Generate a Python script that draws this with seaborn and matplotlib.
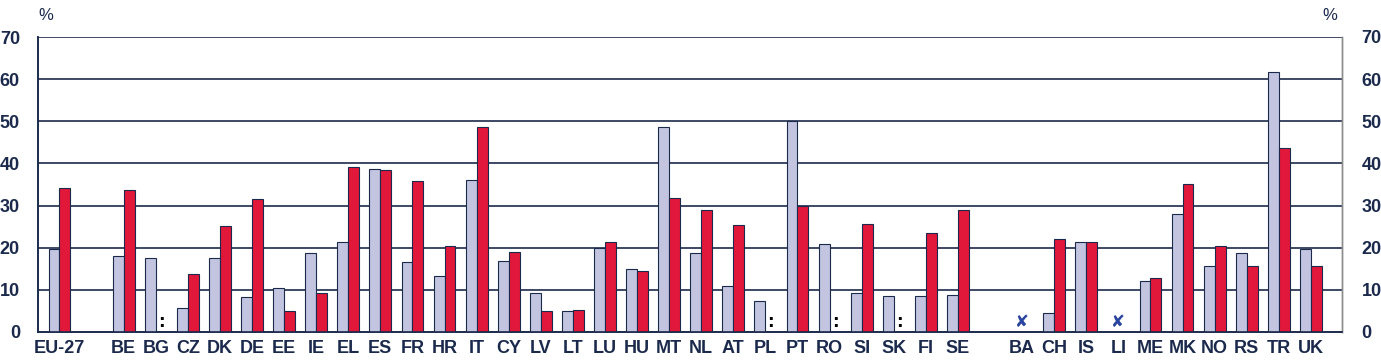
import numpy as np
import pandas as pd
import matplotlib
matplotlib.use("Agg")
import matplotlib.pyplot as plt
import seaborn as sns

categories = ["EU-27", "_g1", "BE", "BG", "CZ", "DK", "DE", "EE", "IE", "EL", "ES", "FR", "HR",
              "IT", "CY", "LV", "LT", "LU", "HU", "MT", "NL", "AT", "PL", "PT", "RO", "SI",
              "SK", "FI", "SE", "_g2", "BA", "CH", "IS", "LI", "ME", "MK", "NO", "RS", "TR", "UK"]
tick_labels = ["" if c.startswith("_g") else c for c in categories]

series_a = [19.8, np.nan, 18.0, 17.5, 5.7, 17.5, 8.3, 10.4, 18.7, 21.4, 38.6, 16.5, 13.4,
            36.0, 16.8, 9.3, 4.9, 19.9, 15.0, 48.6, 18.7, 10.8, 7.3, 50.0, 20.8, 9.3,
            8.6, 8.6, 8.8, np.nan, np.nan, 4.4, 21.3, np.nan, 12.1, 27.9, 15.7, 18.7, 61.6, 19.7]
series_b = [34.1, np.nan, 33.7, np.nan, 13.8, 25.2, 31.6, 5.1, 9.3, 39.1, 38.4, 35.8, 20.3,
            48.6, 19.1, 4.9, 5.2, 21.3, 14.4, 31.7, 28.9, 25.3, np.nan, 30.0, np.nan, 25.6,
            np.nan, 23.4, 28.9, np.nan, np.nan, 22.0, 21.3, np.nan, 12.9, 35.1, 20.5, 15.7, 43.7, 15.7]
not_available = ["BG", "PL", "RO", "SK"]   # ':' for series B
not_applicable = ["BA", "LI"]              # cross marks
yticks = [0, 10, 20, 30, 40, 50, 60, 70]

navy = "#1B2A4C"
lav = "#C3C5E0"
red = "#E2183A"

df = pd.DataFrame({
    "cat": categories * 2,
    "series": ["A"] * len(categories) + ["B"] * len(categories),
    "value": series_a + series_b,
})

sns.set_theme(style="white")
plt.rcParams['font.family'] = ['Liberation Sans Narrow', 'Liberation Sans', 'DejaVu Sans']

fig = plt.figure(figsize=(13.81, 3.64), dpi=100)
ax = fig.add_axes([38/1381, 32/364, (1342-38)/1381, (332-37)/364])

sns.barplot(data=df, x="cat", y="value", hue="series", order=categories,
            hue_order=["A", "B"], palette=[lav, red], saturation=1, width=0.68, ax=ax,
            edgecolor=navy, linewidth=0.8, legend=False, zorder=3)

ax.set_xlim(-0.67, 39.97)
ax.set_ylim(0, 70)
ax.set_yticks(yticks)
ax.set_xticks(range(len(categories)))
ax.set_xticklabels(tick_labels, fontsize=13, fontweight="bold", color=navy)
ax.set_yticklabels([str(v) for v in yticks], fontsize=13, fontweight="bold", color=navy)
ax.tick_params(axis="x", length=0, pad=6)
ax.tick_params(axis="y", length=0, pad=13)
ax.set_xlabel("")
ax.set_ylabel("")
for y in yticks[1:]:
    ax.axhline(y, color=navy, lw=1.2, zorder=1)

ax2 = ax.twinx()
ax2.set_ylim(0, 70)
ax2.set_yticks(yticks)
ax2.set_yticklabels([str(v) for v in yticks], fontsize=13, fontweight="bold", color=navy)
ax2.tick_params(axis="y", length=0, pad=14)

for a in (ax, ax2):
    a.spines["top"].set_visible(False)
    a.spines["left"].set_color(navy)
    a.spines["left"].set_linewidth(1.2)
    a.spines["bottom"].set_color(navy)
    a.spines["bottom"].set_linewidth(1.2)
    a.spines["right"].set_color("#8C8C8C")
    a.spines["right"].set_linewidth(1.0)

for c in not_available:
    i = categories.index(c)
    ax.text(i + 0.17, 2.4, ":", ha="center", va="center", fontsize=12,
            fontweight="bold", color="black", family="DejaVu Sans", zorder=4)
for c in not_applicable:
    i = categories.index(c)
    ax.text(i, 2.3, "\u2718", ha="center", va="center", fontsize=12,
            color="#2B44A0", family="DejaVu Sans", zorder=4)

fig.text(46/1381, 1 - 15/364, "%", ha="center", va="center", fontsize=12, color=navy)
fig.text(1330/1381, 1 - 15/364, "%", ha="center", va="center", fontsize=12, color=navy)

fig.savefig("out.png", dpi=100)
